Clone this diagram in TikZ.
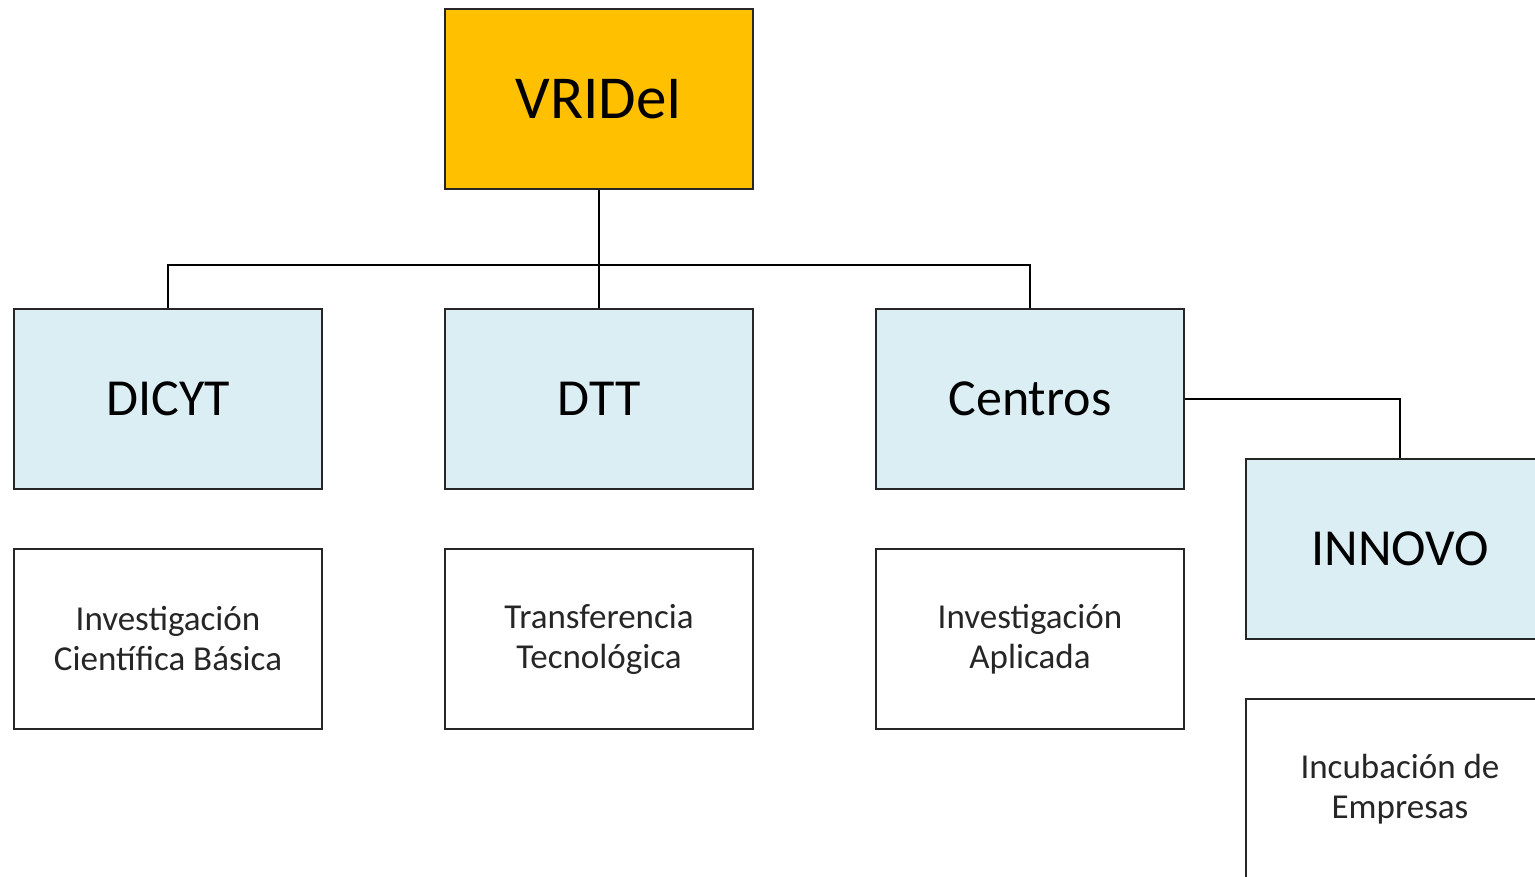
\documentclass[tikz,border=0pt]{standalone}
\usepackage{fontspec}
\setmainfont{Carlito}
\definecolor{gold}{HTML}{FFC000}
\definecolor{paleblue}{HTML}{DBEEF4}
\definecolor{txt}{HTML}{262626}
\begin{document}
\begin{tikzpicture}[x=1pt,y=-1pt,
  box/.style={draw=black!85, line width=1.6pt, minimum width=308pt, minimum height=180pt, inner sep=0pt, align=center, text=black},
  top/.style={box, fill=gold, font=\fontsize{61}{65}\selectfont},
  mid/.style={box, fill=paleblue, font=\fontsize{52}{56}\selectfont},
  low/.style={box, fill=white, font=\fontsize{35}{40}\selectfont, text=txt},
  link/.style={draw=black, line width=1.6pt}]
\useasboundingbox (0,0) rectangle (1535,877);
\clip (0,0) rectangle (1535,877);
\fill[white] (0,0) rectangle (1535,877);
\node[top] (vri) at (599,99) {VRIDeI};
\node[mid] (dicyt) at (168,399) {DICYT};
\node[mid] (dtt) at (599,399) {DTT};
\node[mid] (cen) at (1030,399) {Centros};
\node[mid] (inn) at (1400,549) {INNOVO};
\node[low] (l1) at (168,639) {Investigación\\Científica Básica};
\node[low] (l2) at (599,639) {Transferencia\\Tecnológica};
\node[low] (l3) at (1030,639) {Investigación\\Aplicada};
\node[low] (l4) at (1400,789) {Incubación de\\Empresas};
\coordinate (bus) at (599,265);
\draw[link] (vri.south) -- (dtt.north);
\draw[link] (dicyt.north) |- (bus) -| (cen.north);
\draw[link] (cen.east) -| (inn.north);
\end{tikzpicture}
\end{document}
